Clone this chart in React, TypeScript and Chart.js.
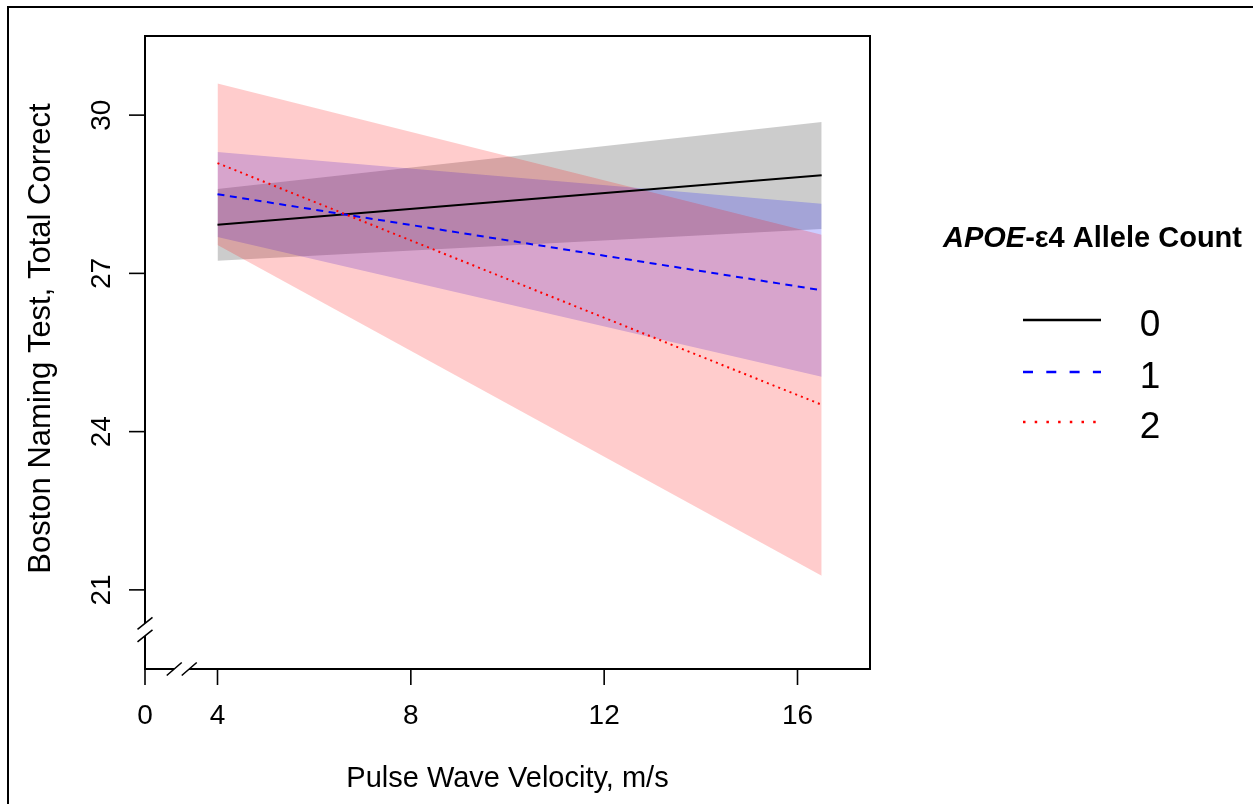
import React, { useEffect, useRef } from "react";
import { Chart, registerables } from "chart.js";

Chart.register(...registerables);

// ---- data ----
const velocity = [4, 16.5];

const fit0 = [27.92, 28.86];
const upper0 = [28.6, 29.87];
const lower0 = [27.24, 27.84];

const fit1 = [28.5, 26.68];
const upper1 = [29.3, 28.32];
const lower1 = [27.69, 25.04];

const fit2 = [29.09, 24.51];
const upper2 = [30.6, 27.73];
const lower2 = [27.54, 21.27];

const xTickValues = [2.5, 4, 8, 12, 16];
const xTickLabels = ["0", "4", "8", "12", "16"];
const yTickValues = [21, 24, 27, 30];
const yTickLabels = ["21", "24", "27", "30"];

const legendLabels = ["0", "1", "2"];
const xTitle = "Pulse Wave Velocity, m/s";
const yTitle = "Boston Naming Test, Total Correct";
const legendTitleItalic = "APOE";
const legendTitleRest = "-\u03B54 Allele Count";

const xBreakAt = 3.26;
const yBreakAt = 20.24;

const FONT = '"Liberation Sans", Arial, Helvetica, sans-serif';

const pts = (ys: number[]) => velocity.map((x, i) => ({ x, y: ys[i] }));

const band = (ys: number[], fill: any, bg: string, order: number) => ({
  data: pts(ys),
  fill,
  backgroundColor: bg,
  borderColor: "rgba(0,0,0,0)",
  borderWidth: 0,
  pointRadius: 0,
  order,
});

const line = (ys: number[], color: string, dash: number[], order: number) => ({
  data: pts(ys),
  fill: false,
  borderColor: color,
  borderWidth: 2,
  borderDash: dash,
  pointRadius: 0,
  order,
});

const decor = {
  id: "decor",
  afterDraw(chart: any) {
    const ctx = chart.ctx as CanvasRenderingContext2D;
    const ca = chart.chartArea;
    const xs = chart.scales.x;
    const ys = chart.scales.y;
    ctx.save();
    ctx.strokeStyle = "#000";
    ctx.fillStyle = "#000";
    ctx.lineCap = "butt";

    // outer frame
    ctx.lineWidth = 2;
    ctx.strokeRect(8, 7, 1260, 810);

    // plot box
    ctx.strokeRect(ca.left, ca.top, ca.right - ca.left, ca.bottom - ca.top);

    // x ticks + labels
    ctx.lineWidth = 1.6;
    ctx.font = `28px ${FONT}`;
    ctx.textAlign = "center";
    ctx.textBaseline = "alphabetic";
    xTickValues.forEach((v, i) => {
      const px = xs.getPixelForValue(v);
      ctx.beginPath();
      ctx.moveTo(px, ca.bottom);
      ctx.lineTo(px, ca.bottom + 16);
      ctx.stroke();
      ctx.fillText(xTickLabels[i], px, 724);
    });

    // y ticks + labels (rotated)
    yTickValues.forEach((v, i) => {
      const py = ys.getPixelForValue(v);
      ctx.beginPath();
      ctx.moveTo(ca.left, py);
      ctx.lineTo(ca.left - 16, py);
      ctx.stroke();
      ctx.save();
      ctx.translate(110, py);
      ctx.rotate(-Math.PI / 2);
      ctx.fillText(yTickLabels[i], 0, 0);
      ctx.restore();
    });

    // axis breaks
    const bx = xs.getPixelForValue(xBreakAt);
    const by = ys.getPixelForValue(yBreakAt);
    ctx.fillStyle = "#fff";
    ctx.beginPath();
    ctx.moveTo(bx - 15, ca.bottom + 6.5);
    ctx.lineTo(bx, ca.bottom - 6.5);
    ctx.lineTo(bx + 15, ca.bottom - 6.5);
    ctx.lineTo(bx, ca.bottom + 6.5);
    ctx.closePath();
    ctx.fill();
    ctx.beginPath();
    ctx.moveTo(bx - 15, ca.bottom + 6.5);
    ctx.lineTo(bx, ca.bottom - 6.5);
    ctx.moveTo(bx, ca.bottom + 6.5);
    ctx.lineTo(bx + 15, ca.bottom - 6.5);
    ctx.stroke();
    ctx.beginPath();
    ctx.moveTo(ca.left - 7.5, by - 0.5);
    ctx.lineTo(ca.left + 7.5, by - 12.5);
    ctx.lineTo(ca.left + 7.5, by + 0);
    ctx.lineTo(ca.left - 7.5, by + 12);
    ctx.closePath();
    ctx.fill();
    ctx.beginPath();
    ctx.moveTo(ca.left - 7.5, by - 0.5);
    ctx.lineTo(ca.left + 7.5, by - 12.5);
    ctx.moveTo(ca.left - 7.5, by + 12);
    ctx.lineTo(ca.left + 7.5, by + 0);
    ctx.stroke();
    ctx.fillStyle = "#000";

    // axis titles
    ctx.font = `29px ${FONT}`;
    ctx.textAlign = "center";
    ctx.fillText(xTitle, (ca.left + ca.right) / 2, 787);
    ctx.save();
    ctx.font = `31px ${FONT}`;
    ctx.translate(50, 338.5);
    ctx.rotate(-Math.PI / 2);
    ctx.fillText(yTitle, 0, 0);
    ctx.restore();

    // legend title
    ctx.textAlign = "left";
    ctx.font = `italic bold 29px ${FONT}`;
    const w1 = ctx.measureText(legendTitleItalic).width;
    ctx.font = `bold 29px ${FONT}`;
    const w2 = ctx.measureText(legendTitleRest).width;
    const tx = 1092.5 - (w1 + w2) / 2;
    ctx.font = `italic bold 29px ${FONT}`;
    ctx.fillText(legendTitleItalic, tx, 247);
    ctx.font = `bold 29px ${FONT}`;
    ctx.fillText(legendTitleRest, tx + w1, 247);

    // legend entries
    const colors = ["#000000", "#0000ff", "#ff0000"];
    const dashes = [[], [10, 13.3], [2.5, 9.2]];
    const ly = [320, 372, 422];
    legendLabels.forEach((lab, i) => {
      ctx.strokeStyle = colors[i];
      ctx.lineWidth = 2.5;
      ctx.setLineDash(dashes[i]);
      ctx.beginPath();
      ctx.moveTo(1023, ly[i]);
      ctx.lineTo(1101, ly[i]);
      ctx.stroke();
      ctx.setLineDash([]);
      ctx.font = `37px ${FONT}`;
      ctx.textAlign = "center";
      ctx.fillStyle = "#000";
      ctx.fillText(lab, 1150, ly[i] + 16);
    });

    ctx.restore();
  },
};

export default function App() {
  const ref = useRef<HTMLCanvasElement | null>(null);
  useEffect(() => {
    if (!ref.current) return;
    const chart = new Chart(ref.current, {
      type: "line",
      data: {
        datasets: [
          band(upper0, "+1", "rgba(0,0,0,0.2)", 30),
          band(lower0, false, "rgba(0,0,0,0)", 30),
          band(upper1, "+1", "rgba(0,0,255,0.2)", 20),
          band(lower1, false, "rgba(0,0,0,0)", 20),
          band(upper2, "+1", "rgba(255,0,0,0.2)", 10),
          band(lower2, false, "rgba(0,0,0,0)", 10),
          line(fit0, "#000000", [], 3),
          line(fit1, "#0000ff", [7, 5.5], 2),
          line(fit2, "#ff0000", [2, 4.1], 1),
        ] as any,
      },
      options: {
        responsive: false,
        animation: false,
        layout: { padding: { left: 145, top: 36, right: 383, bottom: 135 } },
        scales: {
          x: { type: "linear", min: 2.5, max: 17.5, display: false },
          y: { type: "linear", min: 19.5, max: 31.5, display: false },
        },
        plugins: {
          legend: { display: false },
          tooltip: { enabled: false },
          filler: { drawTime: "beforeDatasetsDraw" } as any,
        },
        elements: { line: { tension: 0 } },
      },
      plugins: [decor],
    });
    return () => chart.destroy();
  }, []);
  return (
    <div style={{ position: "absolute", left: 0, top: 0, width: 1253, height: 804, background: "#fff" }}>
      <canvas ref={ref} width={1253} height={804} style={{ display: "block", width: 1253, height: 804 }} />
    </div>
  );
}
